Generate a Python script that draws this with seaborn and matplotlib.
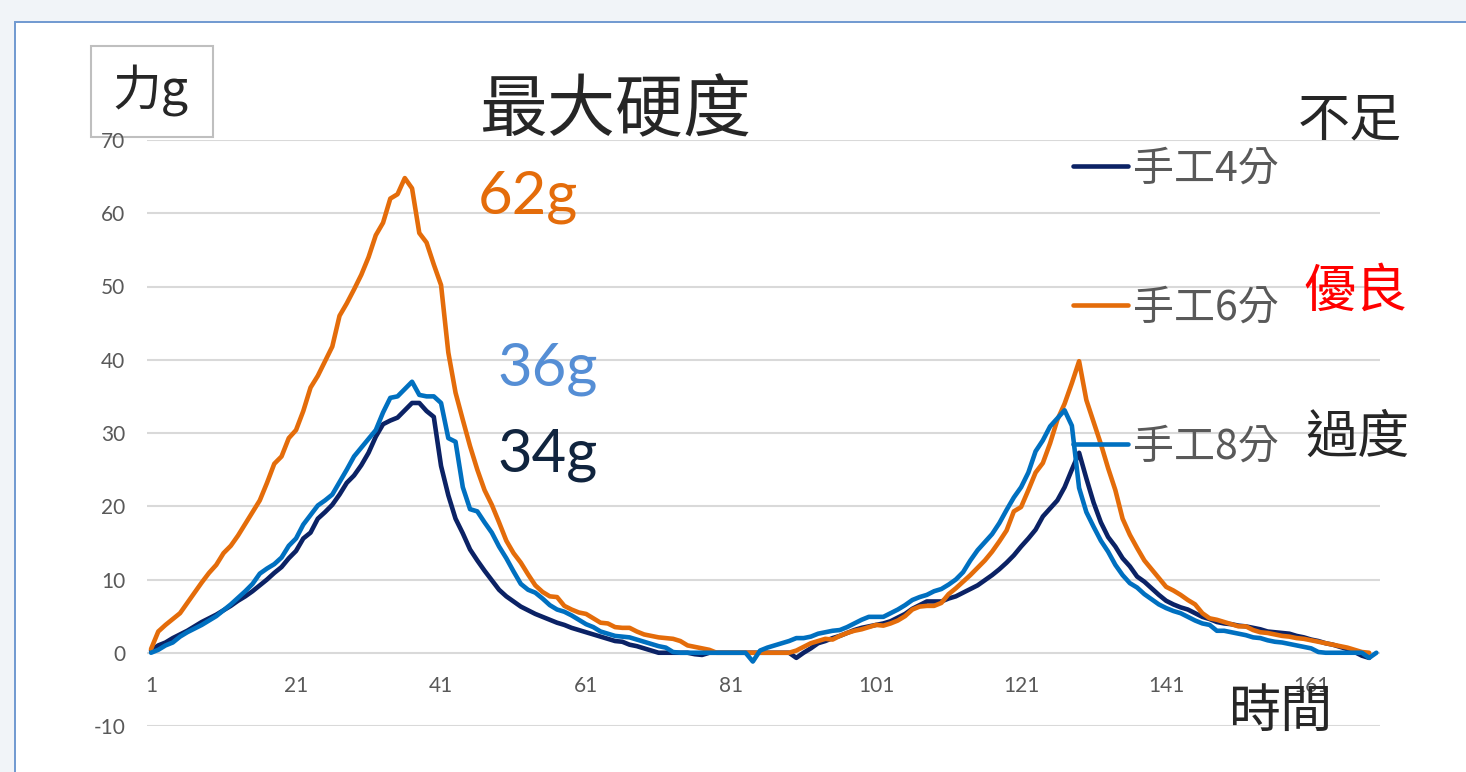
import matplotlib
matplotlib.use("Agg")
import matplotlib.pyplot as plt
import pandas as pd
import seaborn as sns
from matplotlib.patches import Rectangle
from matplotlib.lines import Line2D

# ---- data -------------------------------------------------------------
series_names = ["手工4分", "手工6分", "手工8分"]
series_colors = ["#0b2265", "#e46c0a", "#0070c0"]

force_4min = [
    0.3, 1.0, 1.4, 2.0, 2.5, 3.0, 3.6, 4.2, 4.7, 5.2,
    5.8, 6.4, 7.1, 7.7, 8.4, 9.2, 10.0, 10.9, 11.7, 12.9,
    13.9, 15.6, 16.4, 18.3, 19.2, 20.2, 21.6, 23.2, 24.2, 25.6,
    27.3, 29.5, 31.2, 31.7, 32.1, 33.1, 34.1, 34.1, 33.0, 32.2,
    25.5, 21.5, 18.3, 16.3, 14.1, 12.6, 11.2, 9.9, 8.6, 7.7,
    7.0, 6.3, 5.8, 5.3, 4.9, 4.5, 4.1, 3.8, 3.4, 3.1,
    2.8, 2.5, 2.2, 1.9, 1.6, 1.5, 1.1, 0.9, 0.6, 0.3,
    0.0, 0.0, 0.0, 0.0, 0.0, -0.2, -0.3, 0.0, 0.0, 0.0,
    0.0, 0.0, 0.0, 0.0, 0.0, 0.0, 0.0, 0.0, 0.0, -0.7,
    0.0, 0.6, 1.3, 1.6, 2.0, 2.3, 2.7, 3.1, 3.4, 3.6,
    3.8, 4.0, 4.3, 4.8, 5.3, 6.0, 6.5, 7.0, 7.0, 7.0,
    7.4, 7.7, 8.2, 8.7, 9.2, 9.9, 10.6, 11.4, 12.3, 13.3,
    14.5, 15.6, 16.8, 18.6, 19.7, 20.8, 22.6, 25.0, 27.3, 23.8,
    20.5, 17.8, 15.8, 14.5, 12.9, 11.8, 10.4, 9.7, 8.8, 7.9,
    7.1, 6.6, 6.2, 5.9, 5.4, 4.9, 4.6, 4.2, 4.0, 3.9,
    3.7, 3.6, 3.4, 3.2, 2.9, 2.8, 2.7, 2.6, 2.3, 2.1,
    1.8, 1.6, 1.3, 1.1, 0.8, 0.5, 0.1, -0.4, -0.7,
]

force_6min = [
    0.5, 2.9, 3.8, 4.6, 5.4, 6.8, 8.2, 9.6, 10.9, 12.0,
    13.6, 14.6, 16.0, 17.6, 19.2, 20.8, 23.2, 25.8, 26.8, 29.3,
    30.4, 33.0, 36.2, 37.8, 39.8, 41.8, 46.0, 47.7, 49.6, 51.6,
    54.0, 57.0, 58.7, 62.0, 62.6, 64.8, 63.4, 57.3, 56.0, 53.0,
    50.2, 41.0, 35.5, 31.8, 28.2, 25.0, 22.2, 20.2, 17.8, 15.3,
    13.6, 12.3, 10.7, 9.2, 8.3, 7.7, 7.6, 6.4, 5.9, 5.5,
    5.3, 4.7, 4.1, 4.0, 3.5, 3.4, 3.4, 2.9, 2.5, 2.3,
    2.1, 2.0, 1.9, 1.6, 1.0, 0.8, 0.6, 0.4, 0.0, 0.0,
    0.0, 0.0, 0.0, 0.0, 0.0, 0.0, 0.0, 0.0, 0.0, 0.3,
    0.8, 1.3, 1.6, 1.9, 1.8, 2.3, 2.7, 3.0, 3.2, 3.5,
    3.8, 3.7, 4.0, 4.4, 5.0, 5.9, 6.3, 6.4, 6.4, 6.8,
    8.0, 8.8, 9.7, 10.6, 11.6, 12.6, 13.8, 15.2, 16.7, 19.3,
    19.9, 22.2, 24.6, 25.9, 28.6, 31.8, 34.0, 36.8, 39.8, 34.5,
    31.5, 28.5, 25.2, 22.2, 18.3, 16.1, 14.3, 12.6, 11.4, 10.2,
    9.0, 8.5, 7.9, 7.2, 6.6, 5.4, 4.7, 4.5, 4.2, 3.9,
    3.6, 3.6, 3.1, 2.8, 2.7, 2.5, 2.3, 2.2, 2.0, 1.9,
    1.7, 1.5, 1.3, 1.1, 0.9, 0.7, 0.4, 0.1, 0.0,
]

force_8min = [
    0.0, 0.4, 1.0, 1.4, 2.2, 2.8, 3.3, 3.8, 4.4, 5.0,
    5.8, 6.6, 7.5, 8.4, 9.4, 10.8, 11.5, 12.1, 13.0, 14.6,
    15.6, 17.5, 18.8, 20.1, 20.8, 21.6, 23.3, 25.0, 26.8, 28.0,
    29.2, 30.4, 32.8, 34.8, 35.0, 36.0, 37.0, 35.2, 35.0, 35.0,
    34.1, 29.3, 28.8, 22.6, 19.6, 19.3, 17.8, 16.4, 14.5, 12.9,
    11.1, 9.4, 8.6, 8.2, 7.4, 6.5, 5.9, 5.6, 5.1, 4.5,
    3.9, 3.5, 2.9, 2.6, 2.3, 2.2, 2.1, 1.8, 1.5, 1.2,
    0.9, 0.7, 0.1, 0.0, 0.0, 0.0, 0.0, 0.0, 0.0, 0.0,
    0.0, 0.0, 0.0, -1.2, 0.3, 0.7, 1.0, 1.3, 1.6, 2.0,
    2.0, 2.2, 2.6, 2.8, 3.0, 3.1, 3.5, 4.0, 4.5, 4.9,
    4.9, 4.9, 5.4, 5.9, 6.5, 7.2, 7.6, 7.9, 8.4, 8.7,
    9.3, 10.0, 11.0, 12.6, 14.0, 15.1, 16.2, 17.7, 19.5, 21.2,
    22.6, 24.6, 27.5, 29.0, 30.9, 32.0, 33.1, 31.0, 22.5, 19.2,
    17.2, 15.3, 13.8, 12.0, 10.6, 9.5, 8.9, 8.0, 7.3, 6.6,
    6.1, 5.7, 5.4, 4.9, 4.4, 4.0, 3.8, 3.0, 3.0, 2.8,
    2.6, 2.4, 2.1, 2.0, 1.7, 1.5, 1.4, 1.2, 1.0, 0.8,
    0.6, 0.1, 0.0, 0.0, 0.0, 0.0, 0.0, 0.0, -0.7, 0.0,
]

x_ticks = [1, 21, 41, 61, 81, 101, 121, 141, 161]
y_ticks = [-10, 0, 10, 20, 30, 40, 50, 60, 70]

# ---- figure ------------------------------------------------------------
W, H = 1466, 772
sns.set_theme(style="white")
plt.rcParams["font.family"] = ["Lato", "Noto Sans CJK TC", "DejaVu Sans"]
plt.rcParams["axes.unicode_minus"] = False
CJK = ["Noto Sans CJK TC", "DejaVu Sans"]


def fx(x):
    return x / W


def fy(y):
    return 1 - y / H


fig = plt.figure(figsize=(W / 100, H / 100), dpi=100, facecolor="#f1f4f8")

# chart area panel
fig.patches.append(Rectangle((fx(15), -0.1), 1.0, fy(22) + 0.1,
                             transform=fig.transFigure, facecolor="white",
                             edgecolor="#7099d0", lw=1.4, zorder=-3))
# unit box
fig.patches.append(Rectangle((fx(91), fy(137)), (213 - 91) / W, (137 - 46) / H,
                             transform=fig.transFigure, facecolor="white",
                             edgecolor="#bfbfbf", lw=1.5, zorder=-2))

ax = fig.add_axes([fx(147.4), fy(726), (1380 - 147.4) / W, (726 - 140) / H])
ax.set_facecolor("none")

frames = []
for name, vals in zip(series_names, [force_4min, force_6min, force_8min]):
    frames.append(pd.DataFrame({"t": range(1, len(vals) + 1), "g": vals, "series": name}))
df = pd.concat(frames, ignore_index=True)

for yv in y_ticks:
    ax.axhline(yv, color="#d9d9d9", lw=1.5, zorder=0)

sns.lineplot(data=df, x="t", y="g", hue="series", hue_order=series_names,
             palette=series_colors, lw=3.3, estimator=None, sort=False,
             legend=False, ax=ax, zorder=3)
for ln in ax.lines:
    ln.set_solid_joinstyle("round")
    ln.set_solid_capstyle("round")

ax.set_xlim(0.5, 170.5)
ax.set_ylim(-10, 70)
ax.set_xticks(x_ticks)
ax.set_yticks(y_ticks)
ax.set_xlabel("")
ax.set_ylabel("")
for s in ax.spines.values():
    s.set_visible(False)
ax.spines["bottom"].set_position(("data", 0))
ax.tick_params(axis="both", length=0, labelsize=15, labelcolor="#595959")
ax.tick_params(axis="y", pad=16)
ax.tick_params(axis="x", pad=17)

# legend placed along the right side
handles = [Line2D([], [], color=c, lw=3.3, solid_capstyle="round") for c in series_colors]
leg = ax.legend(handles, series_names, loc="center left",
                bbox_to_anchor=(fx(1073), fy(308)), bbox_transform=fig.transFigure,
                frameon=False, prop={"family": CJK, "size": 29.5},
                labelcolor="#595959", handlelength=1.35, handletextpad=0.12,
                labelspacing=2.4, borderpad=0, borderaxespad=0)

# annotations
fig.text(fx(150), fy(91), "力g", fontsize=35, family=CJK, ha="center", va="center")
fig.text(fx(615), fy(112), "最大硬度", fontsize=49, family=CJK, ha="center", va="center")
fig.text(fx(478), fy(213), "62g", fontsize=43, color="#e46c0a", ha="left", va="baseline")
fig.text(fx(497), fy(386), "36g", fontsize=43, color="#558ed5", ha="left", va="baseline")
fig.text(fx(497), fy(472), "34g", fontsize=43, color="#10243e", ha="left", va="baseline")
fig.text(fx(1350), fy(121), "不足", fontsize=37.5, family=CJK, ha="center", va="center")
fig.text(fx(1356), fy(292), "優良", fontsize=37.5, family=CJK, color="#ff0000", ha="center", va="center")
fig.text(fx(1358), fy(438), "過度", fontsize=37.5, family=CJK, ha="center", va="center")
fig.text(fx(1280), fy(712), "時間", fontsize=37.5, family=CJK, ha="center", va="center")

fig.savefig("out.png", dpi=100, facecolor=fig.get_facecolor())
